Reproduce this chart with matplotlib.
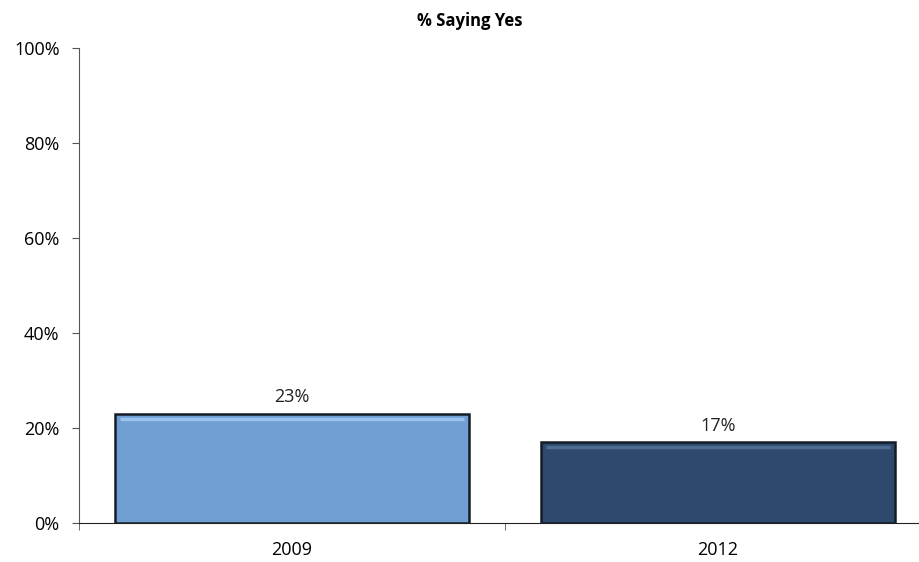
import matplotlib.pyplot as plt
from matplotlib.ticker import FixedLocator, NullFormatter

years = ["2009", "2012"]
values = [23, 17]
bar_colors = ["#6f9ed2", "#2d4a6e"]
highlight_colors = ["#9cc3ee", "#4e6b90"]
yticks = [0, 20, 40, 60, 80, 100]

plt.rcParams['font.family'] = ['Open Sans', 'DejaVu Sans']

fig = plt.figure(figsize=(9.19, 5.62), dpi=100)
ax = fig.add_axes([79 / 919, 1 - 523 / 562, 852 / 919, 475 / 562])

x = list(range(len(years)))
bars = ax.bar(x, values, width=0.833, color=bar_colors,
              edgecolor="#151c26", linewidth=1.8, zorder=3)

# soft bevel highlight along the top of each bar
for b, v, hc in zip(bars, values, highlight_colors):
    inset = 0.012
    ax.hlines(v - 1.0, b.get_x() + inset, b.get_x() + b.get_width() - inset,
              color=hc, linewidth=2.5, zorder=4)
    ax.text(b.get_x() + b.get_width() / 2, v + 1.6, f"{v}%",
            ha="center", va="bottom", fontsize=13, color="#222222")

ax.set_xlim(-0.5, 1.5)
ax.set_ylim(0, 100)
ax.set_yticks(yticks)
ax.set_yticklabels([f"{t}%" for t in yticks], fontsize=13)
ax.set_xticks(x)
ax.set_xticklabels(years, fontsize=13)
ax.tick_params(axis="x", length=0, pad=13)
ax.xaxis.set_minor_locator(FixedLocator([-0.5, 0.5, 1.5]))
ax.xaxis.set_minor_formatter(NullFormatter())
ax.tick_params(axis="x", which="minor", length=5, color="#555555")
ax.tick_params(axis="y", length=5, color="#555555", pad=9)

for s in ["top", "right"]:
    ax.spines[s].set_visible(False)
ax.spines["left"].set_color("#555555")
ax.spines["bottom"].set_color("#222222")

ax.set_title("% Saying Yes", fontsize=12, fontweight="bold", pad=16,
             x=(470 - 79) / 852)

fig.savefig("out.png", dpi=100)
